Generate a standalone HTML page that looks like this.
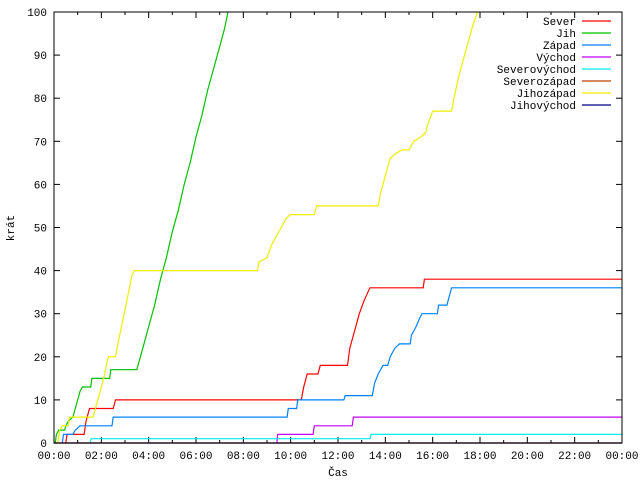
<!DOCTYPE html>
<html><head><meta charset="utf-8"><style>
body{margin:0;background:#fff}
svg{display:block;font-family:"Liberation Mono","DejaVu Sans Mono",monospace;font-size:11px}
</style></head><body>
<svg id="chart" width="640" height="480">
<rect width="640" height="480" fill="#fff"/>
<g id="grid"></g><g id="series"></g><g id="legend"></g>
<rect x="54" y="12" width="568" height="431" fill="none" stroke="#000"/>
<text x="14" y="228" transform="rotate(-90 14 228)" text-anchor="middle">krát</text>
<text x="338" y="476" text-anchor="middle">Čas</text>
</svg>
<script>
const seriesNames=["Sever","Jih","Západ","Východ","Severovýchod","Severozápad","Jihozápad","Jihovýchod"];
const seriesColors=["#ff0000","#00c000","#0080ff","#c000ff","#00eeee","#c04000","#eeee00","#000080"];
const yTicks=[0,10,20,30,40,50,60,70,80,90,100];
const xTickLabels=["00:00","02:00","04:00","06:00","08:00","10:00","12:00","14:00","16:00","18:00","20:00","22:00","00:00"];
const sever=[[0.5,0],[0.55,2],[1.27,2],[1.35,5],[1.5,8],[2.5,8],[2.6,10],[10.45,10],[10.55,13],[10.7,16],[11.15,16],[11.25,18],[12.4,18],[12.5,22],[12.7,26],[12.9,30],[13.1,33],[13.35,36],[15.6,36],[15.65,38],[24,38]];
const jih=[[0.05,0],[0.1,2],[0.2,3],[0.45,3],[0.5,4],[0.6,5],[0.8,6],[0.9,8],[1.0,10],[1.1,12],[1.2,13],[1.55,13],[1.6,15],[2.35,15],[2.4,17],[3.5,17],[3.6,19],[3.75,22],[4.0,27],[4.25,32],[4.5,38],[4.75,43],[5.0,49],[5.25,54],[5.5,60],[5.75,65],[6.0,71],[6.25,76],[6.5,82],[6.75,87],[7.0,92],[7.2,96],[7.35,100]];
const zapad=[[0.35,0],[0.4,2],[0.8,2],[0.9,3],[1.1,4],[2.45,4],[2.5,6],[9.85,6],[9.9,8],[10.25,8],[10.3,10],[12.25,10],[12.3,11],[13.45,11],[13.55,14],[13.7,16],[13.9,18],[14.1,18],[14.2,20],[14.4,22],[14.6,23],[15.05,23],[15.1,25],[15.3,27],[15.45,29],[15.55,30],[16.2,30],[16.25,32],[16.6,32],[16.7,34],[16.8,36],[24,36]];
const vychod=[[9.42,0],[9.45,2],[10.95,2],[11.0,4],[12.6,4],[12.65,6],[24,6]];
const severovychod=[[1.52,0],[1.57,1],[13.35,1],[13.4,2],[24,2]];
const severozapad=[[0,0],[24,0]];
const jihozapad=[[0.15,0],[0.25,3],[0.35,4],[0.6,4],[0.65,6],[1.65,6],[1.75,8],[1.9,11],[2.1,15],[2.25,19],[2.3,20],[2.6,20],[2.7,23],[2.85,27],[3.0,31],[3.15,35],[3.3,39],[3.4,40],[8.6,40],[8.66,42],[9.0,43],[9.2,46],[9.4,48],[9.6,50],[9.8,52],[9.97,53],[11.0,53],[11.1,55],[13.7,55],[13.8,58],[14.0,62],[14.2,66],[14.4,67],[14.7,68],[15.0,68],[15.2,70],[15.5,71],[15.7,72],[15.8,74],[16.0,77],[16.8,77],[16.9,80],[17.1,85],[17.3,89],[17.5,93],[17.7,97],[17.9,100]];
const jihovychod=[[0,0],[24,0]];
const allSeries=[sever,jih,zapad,vychod,severovychod,severozapad,jihozapad,jihovychod];
const NS="http://www.w3.org/2000/svg";
const X0=54,X1=622,Y0=443,Y1=12;
function xs(h){return X0+(X1-X0)*h/24;}
function ys(v){return Y0-(Y0-Y1)*v/100;}
function mk(t,a,p){const e=document.createElementNS(NS,t);for(const k in a)e.setAttribute(k,a[k]);p.appendChild(e);return e;}
const grid=document.getElementById('grid');
yTicks.forEach(v=>{
 const y=ys(v);
 const t=mk('line',{x1:X0,x2:X0+6,y1:y,y2:y,stroke:'#000'},grid);
 
 
 const t2=mk('line',{x1:X1-6,x2:X1,y1:y,y2:y,stroke:'#000'},grid);
 
 
 const l=mk('text',{x:47,y:y+4,'text-anchor':'end'},grid);l.textContent=v;
 
 
});
for(let h=0;h<=24;h++){
 const x=xs(h),len=h%2?3:6;
 const t=mk('line',{x1:x,x2:x,y1:Y0,y2:Y0-len,stroke:'#000'},grid);
 
 
 const t2=mk('line',{x1:x,x2:x,y1:Y1,y2:Y1+len,stroke:'#000'},grid);
 
 
}
xTickLabels.forEach((s,i)=>{
 const l=mk('text',{x:xs(i*2),y:459,'text-anchor':'middle'},grid);l.textContent=s;
 
 
});
const sg=document.getElementById('series');
allSeries.forEach((pts,i)=>{
 let d='';
 pts.forEach((p,j)=>{const x=xs(p[0]).toFixed(1),y=ys(p[1]).toFixed(1);d+=(j?'L':'M')+x+','+y;});
 const p=mk('path',{d:d,fill:'none',stroke:seriesColors[i],'stroke-width':1.2},sg);
 
 
});
const lg=document.getElementById('legend');
seriesNames.forEach((n,i)=>{
 const y=21+i*12;
 const t=mk('text',{x:576,y:y+4,'text-anchor':'end'},lg);t.textContent=n;
 
 
 const l=mk('line',{x1:582,x2:611,y1:y,y2:y,stroke:seriesColors[i],'stroke-width':1.2},lg);
 
 
});
</script>
</body></html>
